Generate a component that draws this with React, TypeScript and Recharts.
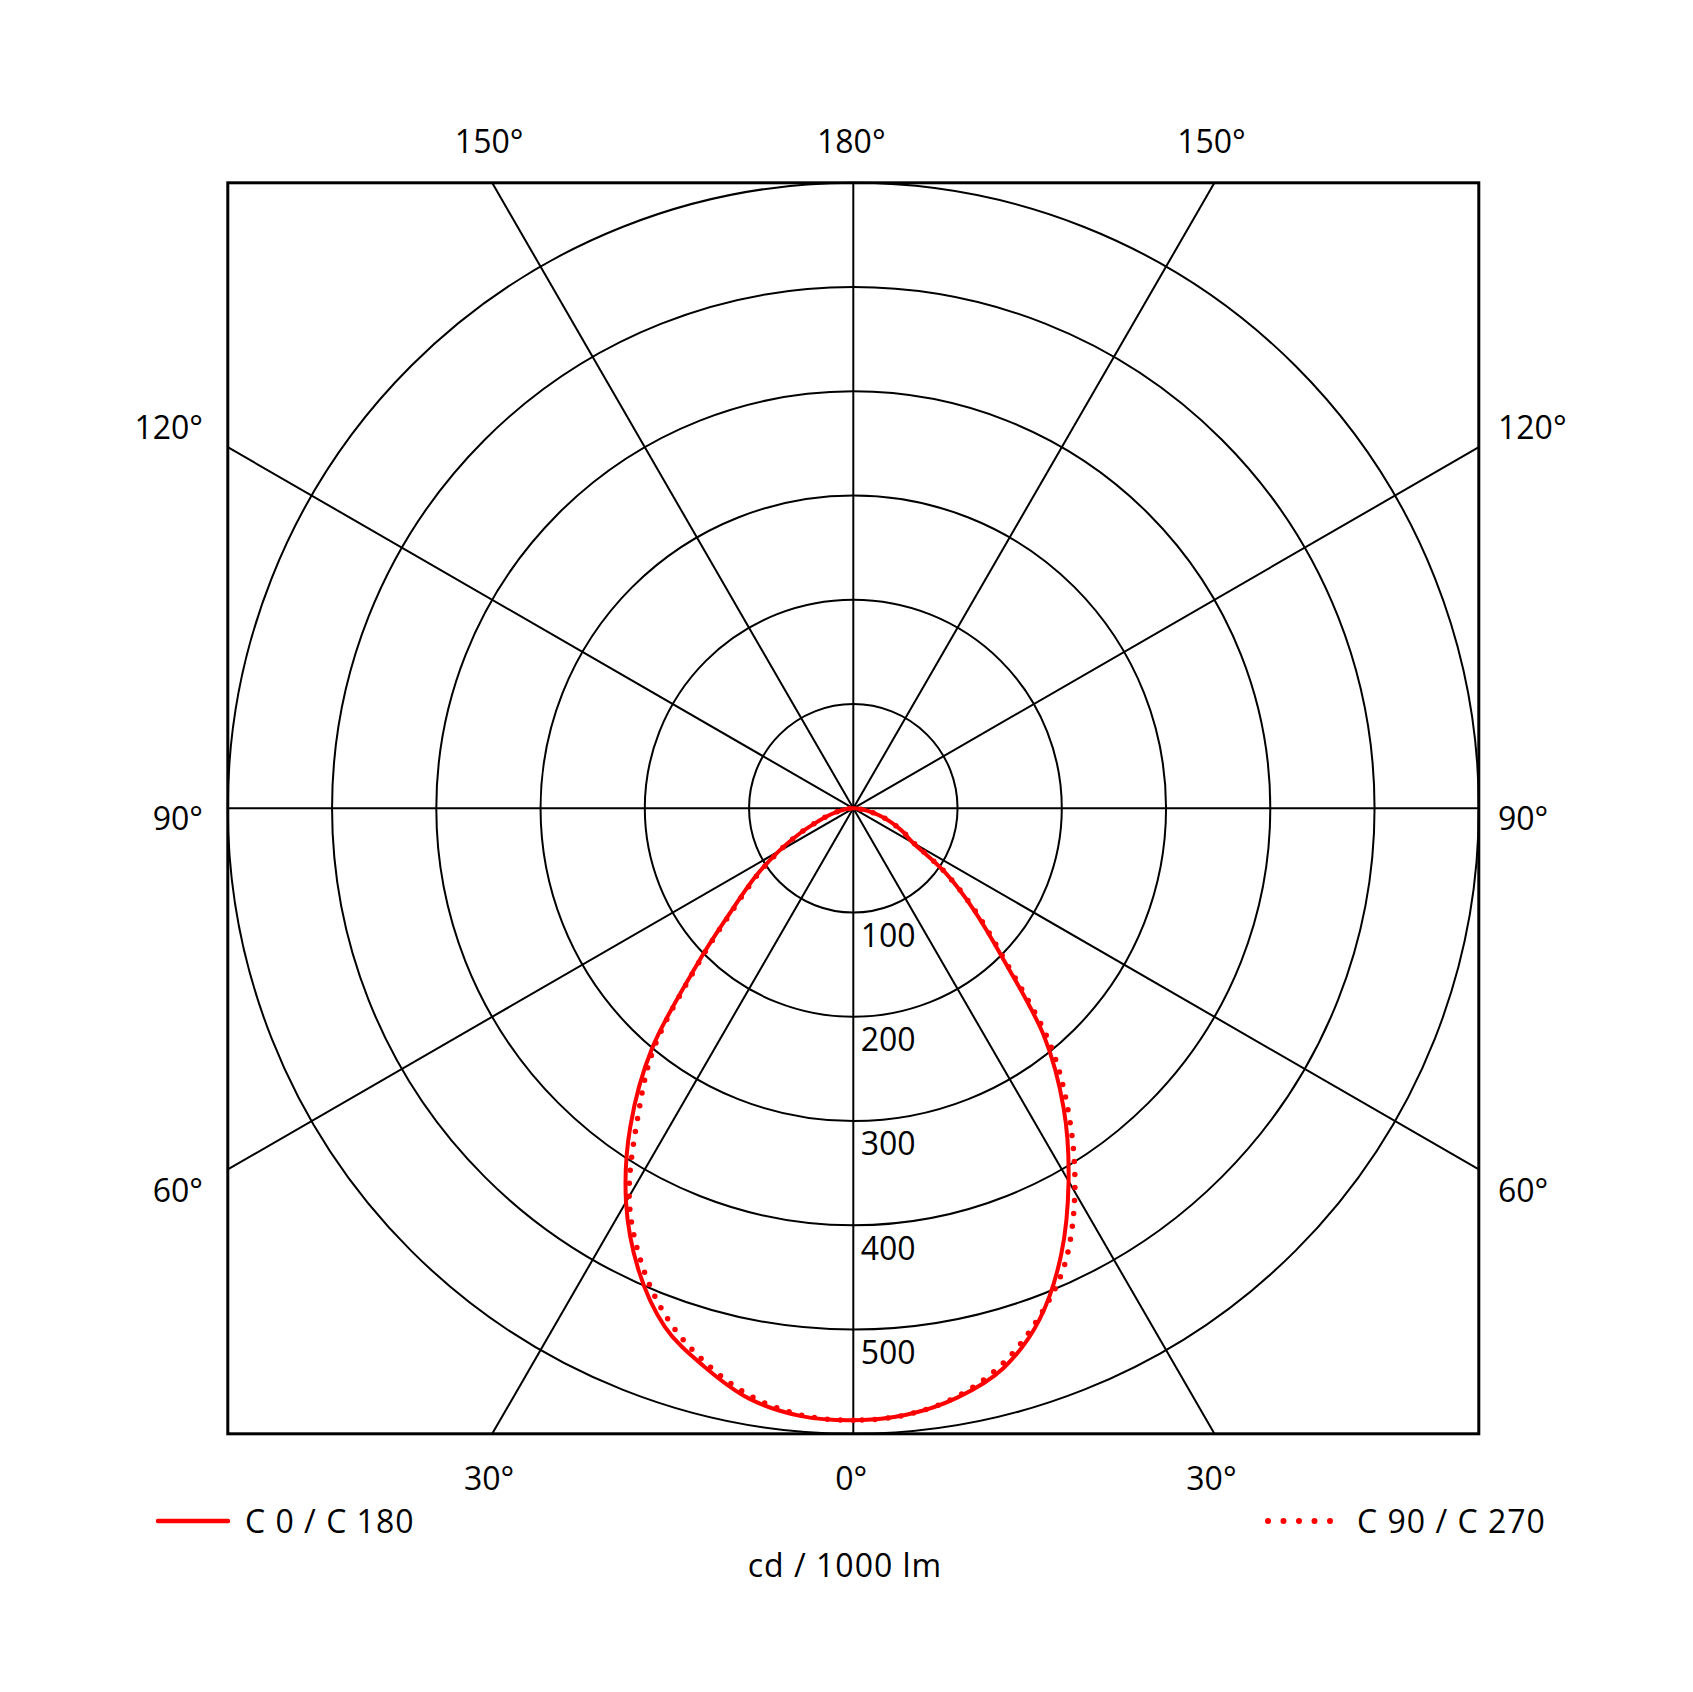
import React from "react";
import {
    RadarChart,
    Radar,
    PolarGrid,
    PolarAngleAxis,
    PolarRadiusAxis,
    Customized,
} from "recharts";

// C-plane gamma angles (deg from nadir), 5 deg steps
const gammaAngles = [0, 5, 10, 15, 20, 25, 30, 35, 40, 45, 50, 55, 60, 65, 70, 75, 80, 85, 90];

// cd / 1000 lm
const c0 = [587, 584, 574, 556, 522, 472, 413, 352, 284, 202, 150, 108, 66, 52, 38, 25, 14, 5, 0];
const c180 = [587, 585, 575, 554, 529, 488, 436, 373, 300, 212, 152, 115, 83, 56, 35, 22, 12, 5, 0];
const c90 = [587, 584, 573, 552, 520, 481, 425, 361, 292, 205, 152, 108, 68, 52, 38, 25, 14, 5, 0];
const c270 = [587, 584, 572, 550, 521, 481, 430, 360, 295, 210, 150, 113, 82, 56, 35, 22, 12, 5, 0];

const radiusTicks = [100, 200, 300, 400, 500, 600];
const topLabels = ["150°", "180°", "150°"];
const bottomLabels = ["30°", "0°", "30°"];
const sideLabels = ["120°", "90°", "60°"];
const legendNames = ["C 0 / C 180", "C 90 / C 270"];
const unitLabel = "cd / 1000 lm";

const W = 1677;
const H = 1676;
const CX = 845.3;
const CY = 800.3;
const R = 625.5;
const FONT = 32;

const valueAt = (arr: number[], gamma: number) => {
    const i = gammaAngles.indexOf(gamma);
    return i >= 0 ? arr[i] : 0;
};

// full circle, 0 at bottom going clockwise: left half = C180/C270, right half = C0/C90
const radarData = Array.from({ length: 72 }, (_, i) => {
    const deg = i * 5;
    const left = deg <= 180;
    const gamma = left ? deg : 360 - deg;
    return {
        angle: deg,
        solid: valueAt(left ? c180 : c0, gamma),
        dotted: valueAt(left ? c270 : c90, gamma),
    };
});

// closed catmull-rom through the points the Radar computed
const smoothPath = (pts: { x: number; y: number }[]) => {
    const n = pts.length;
    if (!n) return "";
    let d = `M${pts[0].x},${pts[0].y}`;
    for (let i = 0; i < n; i++) {
        const p0 = pts[(i - 1 + n) % n];
        const p1 = pts[i];
        const p2 = pts[(i + 1) % n];
        const p3 = pts[(i + 2) % n];
        const c1x = p1.x + (p2.x - p0.x) / 6;
        const c1y = p1.y + (p2.y - p0.y) / 6;
        const c2x = p2.x - (p3.x - p1.x) / 6;
        const c2y = p2.y - (p3.y - p1.y) / 6;
        d += ` C${c1x},${c1y} ${c2x},${c2y} ${p2.x},${p2.y}`;
    }
    return d;
};

const solidShape = (p: any) => (
    <path d={smoothPath(p.points)} fill="none" stroke="#ff0000" strokeWidth={4} strokeLinejoin="round" />
);

const dottedShape = (p: any) => (
    <path
        d={smoothPath(p.points)}
        fill="none"
        stroke="#ff0000"
        strokeWidth={5.5}
        strokeLinecap="round"
        strokeDasharray="0 13"
    />
);

const Frame = () => {
    const spokes = [];
    for (let a = 0; a < 360; a += 30) {
        const s = Math.sin((a * Math.PI) / 180);
        const c = Math.cos((a * Math.PI) / 180);
        const k = R / Math.max(Math.abs(s), Math.abs(c));
        spokes.push(
            <line
                key={a}
                x1={CX}
                y1={CY}
                x2={CX + s * k}
                y2={CY + c * k}
                stroke="#000"
                strokeWidth={2}
            />
        );
    }
    const dx = R * Math.tan(Math.PI / 6);
    const xs = [CX - dx - 3, CX - 2, CX + dx - 3];
    const sideY = [431, 822, 1194];
    const txt = { fontSize: FONT, fill: "#000" };
    return (
        <g>
            {spokes}
            <rect
                x={CX - R}
                y={CY - R}
                width={2 * R}
                height={2 * R}
                fill="none"
                stroke="#000"
                strokeWidth={3}
            />
            {topLabels.map((t, i) => (
                <text key={"t" + i} x={xs[i]} y={145} textAnchor="middle" {...txt}>
                    {t}
                </text>
            ))}
            {bottomLabels.map((t, i) => (
                <text key={"b" + i} x={xs[i]} y={1482} textAnchor="middle" {...txt}>
                    {t}
                </text>
            ))}
            {sideLabels.map((t, i) => (
                <React.Fragment key={"s" + i}>
                    <text x={195} y={sideY[i]} textAnchor="end" {...txt}>
                        {t}
                    </text>
                    <text x={1490} y={sideY[i]} textAnchor="start" {...txt}>
                        {t}
                    </text>
                </React.Fragment>
            ))}
            <line x1={150} y1={1513} x2={220} y2={1513} stroke="#ff0000" strokeWidth={4.5} strokeLinecap="round" />
            <text x={237} y={1525} letterSpacing={1} {...txt}>
                {legendNames[0]}
            </text>
            <line
                x1={1260}
                y1={1513}
                x2={1323}
                y2={1513}
                stroke="#ff0000"
                strokeWidth={6}
                strokeLinecap="round"
                strokeDasharray="0 15.5"
            />
            <text x={1349} y={1525} letterSpacing={1} {...txt}>
                {legendNames[1]}
            </text>
            <text x={837} y={1569} textAnchor="middle" letterSpacing={1} {...txt}>
                {unitLabel}
            </text>
        </g>
    );
};

const RadiusTick = (props: any) => {
    const { x, y, payload } = props;
    if (payload.value >= 600) return null;
    return (
        <text x={x + 7.4} y={y + 34.4} fontSize={FONT} fill="#000" textAnchor="start">
            {payload.value}
        </text>
    );
};

export default function App() {
    return (
        <div style={{ fontFamily: "'Open Sans', sans-serif" }}>
            <RadarChart
                width={W}
                height={H}
                data={radarData}
                cx={CX}
                cy={CY}
                innerRadius={0}
                outerRadius={R}
                startAngle={-90}
                endAngle={-450}
                margin={{ top: 0, right: 0, bottom: 0, left: 0 }}
                style={{ fontFamily: "'Open Sans', sans-serif", background: "#fff" }}
            >
                <Customized component={<Frame />} />
                <PolarGrid gridType="circle" radialLines={false} stroke="#000" strokeWidth={2} />
                <PolarAngleAxis dataKey="angle" tick={false} axisLine={false} tickLine={false} />
                <PolarRadiusAxis
                    angle={-90}
                    type="number"
                    domain={[0, 600]}
                    ticks={radiusTicks}
                    axisLine={false}
                    tick={<RadiusTick />}
                />
                <Radar
                    dataKey="dotted"
                    stroke="#ff0000"
                    fill="none"
                    dot={false}
                    shape={dottedShape}
                    isAnimationActive={false}
                />
                <Radar
                    dataKey="solid"
                    stroke="#ff0000"
                    fill="none"
                    dot={false}
                    shape={solidShape}
                    isAnimationActive={false}
                />
            </RadarChart>
        </div>
    );
}
